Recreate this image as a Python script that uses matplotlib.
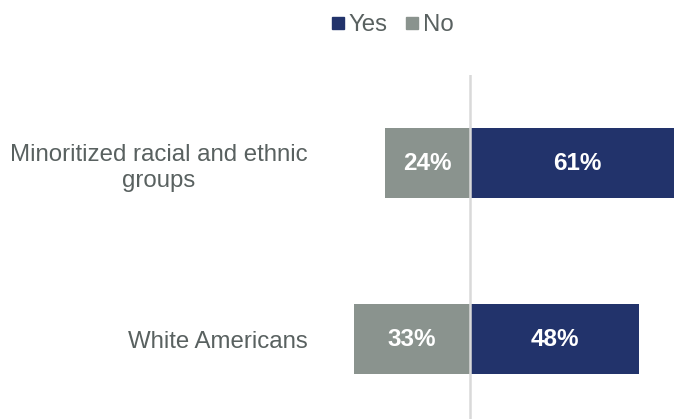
import matplotlib
matplotlib.use("Agg")
import matplotlib.pyplot as plt
from matplotlib.lines import Line2D

plt.rcParams["font.family"] = ["Liberation Sans", "DejaVu Sans"]

# ── data ─────────────────────────────────────────────────────────────────────
groups = ["Minoritized racial and ethnic\ngroups", "White Americans"]
yes_pct = [61, 48]
no_pct = [24, 33]

YES_COLOR = "#22336b"
NO_COLOR = "#8a938e"
TEXT_COLOR = "#596160"
AXIS_COLOR = "#d9d9d9"

W, H = 674, 419
fig = plt.figure(figsize=(W / 100, H / 100), dpi=100)

# axes placed in pixel units: left 330, right 674, top 75, bottom 419
ax = fig.add_axes([330 / W, 0, 344 / W, (419 - 75) / H])

px_per_pct = 3.53
ax.set_xlim(-(470 - 330) / px_per_pct, (674 - 470) / px_per_pct)
ax.set_ylim(1.453, -0.5)

pos = list(range(len(groups)))
ax.barh(pos, yes_pct, height=0.4, color=YES_COLOR, zorder=2)
ax.barh(pos, [-v for v in no_pct], height=0.4, color=NO_COLOR, zorder=2)
ax.axvline(0, color=AXIS_COLOR, linewidth=1.8, zorder=3)

for y, v in zip(pos, yes_pct):
    ax.text(v / 2, y, f"{v}%", ha="center", va="center", color="white",
            fontsize=17.5, fontweight="bold", zorder=4)
for y, v in zip(pos, no_pct):
    ax.text(-v / 2, y, f"{v}%", ha="center", va="center", color="white",
            fontsize=17.5, fontweight="bold", zorder=4)

ax.set_yticks(pos)
ax.set_yticklabels(groups, fontsize=17.3, color=TEXT_COLOR, linespacing=1.25)
for lbl in ax.get_yticklabels():
    lbl.set_multialignment("center")
ax.tick_params(axis="y", length=0, pad=16)
ax.set_xticks([])
for s in ax.spines.values():
    s.set_visible(False)

# ── legend ───────────────────────────────────────────────────────────────────
handles = [
    Line2D([], [], marker="s", linestyle="none", markersize=9,
           markerfacecolor=YES_COLOR, markeredgecolor=YES_COLOR, label="Yes"),
    Line2D([], [], marker="s", linestyle="none", markersize=9,
           markerfacecolor=NO_COLOR, markeredgecolor=NO_COLOR, label="No"),
]
leg = fig.legend(handles=handles, loc="center", bbox_to_anchor=(391 / W, 1 - 25 / H),
                 ncol=2, frameon=False, fontsize=17.3, handletextpad=0.05,
                 columnspacing=0.6, handlelength=0.8, borderaxespad=0)
for t in leg.get_texts():
    t.set_color(TEXT_COLOR)

fig.savefig("out.png", dpi=100)
